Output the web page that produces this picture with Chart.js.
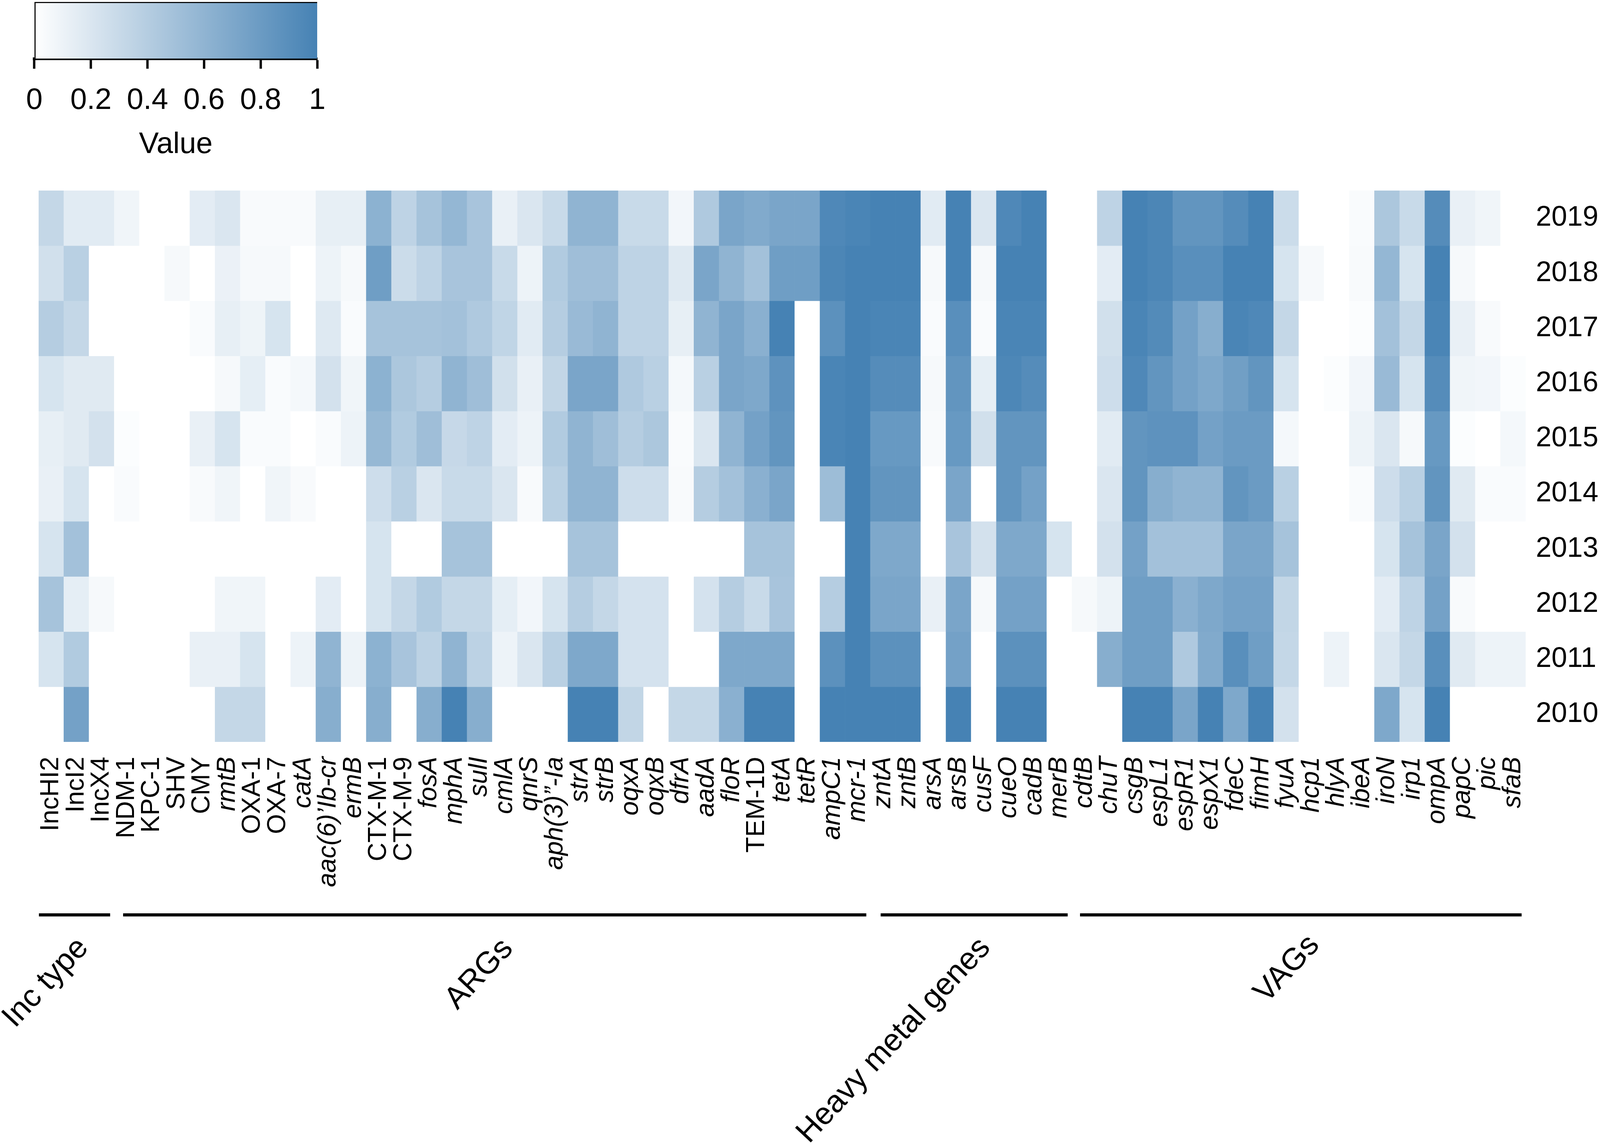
<!DOCTYPE html>
<html>
<head>
<meta charset="utf-8">
<script src="https://cdn.jsdelivr.net/npm/chart.js@4"></script>
<style>
html,body{margin:0;padding:0;background:#fff;overflow:hidden;}
#main{position:absolute;left:0;top:0;}
#legend{position:absolute;left:0;top:0;}
</style>
</head>
<body>
<canvas id="main"></canvas>
<canvas id="legend"></canvas>
<script>
const genes = ["IncHI2","IncI2","IncX4","NDM-1","KPC-1","SHV","CMY","rmtB","OXA-1","OXA-7","catA","aac(6)’Ib-cr","ermB","CTX-M-1","CTX-M-9","fosA","mphA","sulI","cmlA","qnrS","aph(3)”-Ia","strA","strB","oqxA","oqxB","dfrA","aadA","floR","TEM-1D","tetA","tetR","ampC1","mcr-1","zntA","zntB","arsA","arsB","cusF","cueO","cadB","merB","cdtB","chuT","csgB","espL1","espR1","espX1","fdeC","fimH","fyuA","hcp1","hlyA","ibeA","iroN","irp1","ompA","papC","pic","sfaB"];
const uprightGenes = ["IncHI2","IncI2","IncX4","NDM-1","KPC-1","SHV","CMY","OXA-1","OXA-7","CTX-M-1","CTX-M-9","TEM-1D"];
const years = [2019,2018,2017,2016,2015,2014,2013,2012,2011,2010];
const v2019 = [.32,.16,.16,.08,0,0,.15,.2,.04,.04,.04,.13,.13,.62,.35,.48,.58,.47,.12,.2,.3,.6,.6,.3,.3,.07,.43,.72,.68,.72,.72,.95,.98,1,1,.16,1,.2,.95,1,0,0,.35,1,.97,.85,.85,.92,1,.28,0,0,.03,.45,.3,.92,.12,.08,0];
const v2018 = [.25,.38,0,0,0,.05,0,.11,.05,.05,0,.1,.05,.78,.28,.35,.47,.47,.3,.1,.42,.52,.52,.35,.35,.18,.72,.6,.5,.78,.78,.97,1,1,1,.05,1,.05,1,1,0,0,.15,1,.97,.9,.9,1,1,.22,.05,0,.04,.58,.22,1,.05,0,0];
const v2017 = [.4,.32,0,0,0,0,.03,.13,.09,.22,0,.18,.03,.48,.48,.48,.5,.43,.34,.16,.4,.55,.6,.35,.35,.13,.6,.72,.63,1,0,.88,1,.98,.98,.03,.9,.03,.98,.98,0,0,.25,.98,.93,.75,.65,.98,.95,.32,0,0,.02,.5,.32,.98,.12,.04,0];
const v2016 = [.22,.17,.17,0,0,0,0,.05,.14,.03,.06,.24,.08,.62,.45,.4,.6,.52,.25,.12,.33,.72,.72,.43,.38,.06,.38,.72,.7,.87,0,.98,1,.92,.92,.05,.85,.14,.96,.92,0,0,.27,.95,.85,.75,.7,.77,.85,.22,0,.02,.07,.55,.22,.92,.08,.07,.02];
const v2015 = [.13,.17,.24,.02,0,0,.12,.22,.03,.03,0,.03,.1,.57,.42,.52,.31,.35,.15,.1,.42,.6,.52,.4,.45,.03,.2,.6,.75,.85,0,.98,1,.82,.82,.04,.82,.25,.85,.85,0,0,.16,.85,.87,.87,.75,.8,.8,.06,0,0,.1,.2,.05,.82,.02,0,.06];
const v2014 = [.12,.22,0,.03,0,0,.04,.08,0,.08,.04,0,0,.27,.38,.2,.3,.3,.2,.04,.38,.6,.6,.27,.27,.04,.4,.5,.63,.72,0,.53,1,.85,.85,0,.72,0,.85,.75,0,0,.2,.85,.65,.6,.6,.85,.8,.38,0,0,.03,.27,.38,.85,.17,.03,.03];
const v2013 = [.22,.5,0,0,0,0,0,0,0,0,0,0,0,.22,0,0,.48,.48,0,0,0,.48,.48,0,0,0,0,0,.48,.48,0,0,1,.7,.7,0,.47,.24,.7,.7,.22,0,.24,.75,.5,.5,.5,.72,.72,.48,0,0,0,.22,.48,.72,.24,0,0];
const v2012 = [.48,.14,.05,0,0,0,0,.08,.08,0,0,.15,0,.22,.32,.42,.32,.32,.14,.07,.22,.4,.32,.23,.23,0,.23,.4,.3,.47,0,.4,1,.72,.72,.12,.72,.05,.75,.75,0,.05,.1,.78,.78,.63,.7,.75,.75,.33,0,0,0,.15,.35,.75,.04,0,0];
const v2011 = [.22,.42,0,0,0,0,.12,.12,.22,0,.1,.6,.1,.62,.47,.36,.6,.36,.1,.2,.38,.7,.7,.23,.23,0,0,.7,.7,.7,0,.88,1,.88,.88,0,.75,0,.88,.88,0,0,.65,.78,.78,.43,.68,.9,.78,.32,0,.1,0,.2,.32,.9,.17,.1,.1];
const v2010 = [0,.75,0,0,0,0,0,.32,.32,0,0,.65,0,.65,0,.65,1,.65,0,0,0,1,1,.33,0,.32,.32,.63,1,1,0,1,1,1,1,0,1,0,1,1,0,0,0,1,1,.72,1,.7,1,.24,0,0,0,.7,.22,1,0,0,0];
const valueRows = [v2019,v2018,v2017,v2016,v2015,v2014,v2013,v2012,v2011,v2010];
const groupNames = ["Inc type","ARGs","Heavy metal genes","VAGs"];
const groupStart = [-0.486,2.854,32.91,40.82];
const groupEnd = [2.34,32.34,40.33,58.34];
const legendTicks = [0,0.2,0.4,0.6,0.8,1];

const FONT = '"Liberation Sans", Arial, sans-serif';
const LOW = [255,255,255], HIGH = [70,130,180];
function shade(v){
  const c = LOW.map((l,i)=>Math.round(l+(HIGH[i]-l)*v));
  return `rgb(${c[0]},${c[1]},${c[2]})`;
}

// The page fills whatever window it gets; sx maps the 4562-wide layout onto it.
const W = window.innerWidth, H = window.innerHeight;
const sx = W/4562, sy = H/2940;
const mainCanvas = document.getElementById('main');
mainCanvas.width = W; mainCanvas.height = H;
const legendCanvas = document.getElementById('legend');
legendCanvas.width = Math.round(1100*sx); legendCanvas.height = Math.round(417*sy);

const groupPlugin = {
  id:'groups',
  afterDraw(chart){
    const {ctx, scales:{x}} = chart;
    const lineY = 2343*sy;
    const centers = [[131,2517],[1367,2495],[2549,2665],[3670,2482]];
    ctx.save();
    ctx.strokeStyle='#000';
    ctx.lineWidth=8;
    groupNames.forEach((name,i)=>{
      ctx.beginPath();
      ctx.moveTo(x.getPixelForValue(groupStart[i]),lineY);
      ctx.lineTo(x.getPixelForValue(groupEnd[i]),lineY);
      ctx.stroke();
      ctx.save();
      ctx.translate(centers[i][0]*sx,centers[i][1]*sy);
      ctx.rotate(-47*Math.PI/180);
      ctx.font=`80px ${FONT}`;
      ctx.fillStyle='#000';
      ctx.textAlign='center';
      ctx.textBaseline='middle';
      ctx.fillText(name,0,0);
      ctx.restore();
    });
    ctx.restore();
  }
};

function zeroPad(s){s.paddingLeft=0;s.paddingRight=0;s.paddingTop=0;s.paddingBottom=0;}

new Chart(mainCanvas,{
  type:'bar',
  data:{
    labels:genes,
    datasets:years.map((yr,j)=>({
      label:String(yr),
      data:genes.map(()=>[yr-0.5,yr+0.5]),
      backgroundColor:valueRows[j].map(shade),
      borderWidth:0,
      barPercentage:1,
      categoryPercentage:1
    }))
  },
  options:{
    responsive:false,
    animation:false,
    devicePixelRatio:1,
    layout:{padding:{left:110*sx,top:488*sy,right:0,bottom:0}},
    plugins:{legend:{display:false},tooltip:{enabled:false}},
    scales:{
      x:{
        type:'category',
        stacked:true,
        grid:{display:false,drawTicks:false},
        border:{display:false},
        afterFit(s){s.height=H-1900*sy;zeroPad(s);},
        ticks:{
          autoSkip:false,maxRotation:90,minRotation:90,padding:38,color:'#000',
          font:(c)=>({family:FONT,size:66,style:uprightGenes.includes(genes[c.index])?'normal':'italic'})
        }
      },
      y:{
        type:'linear',
        position:'right',
        min:2009.5,max:2019.5,
        grid:{display:false,drawTicks:false},
        border:{display:false},
        afterBuildTicks(s){s.ticks=years.map(value=>({value}));},
        afterFit(s){s.width=212*sx;zeroPad(s);},
        ticks:{padding:26,color:'#000',font:{family:FONT,size:72},callback:v=>String(v)}
      }
    }
  },
  plugins:[groupPlugin]
});

new Chart(legendCanvas,{
  type:'bar',
  data:{
    labels:['Value'],
    datasets:[{
      data:[[0,1]],
      backgroundColor(c){
        const a=c.chart.chartArea;
        if(!a) return shade(0.5);
        const g=c.chart.ctx.createLinearGradient(a.left,0,a.right,0);
        g.addColorStop(0,shade(0));g.addColorStop(1,shade(1));
        return g;
      },
      borderColor:'#000',
      borderWidth:{top:3,left:3,right:0,bottom:0},
      borderSkipped:false,
      barPercentage:1,
      categoryPercentage:1
    }]
  },
  options:{
    indexAxis:'y',
    responsive:false,
    animation:false,
    devicePixelRatio:1,
    layout:{padding:{left:98*sx,top:5,right:196*sx,bottom:0}},
    plugins:{legend:{display:false},tooltip:{enabled:false}},
    scales:{
      x:{
        type:'linear',min:0,max:1,position:'bottom',
        afterBuildTicks(s){s.ticks=legendTicks.map(value=>({value}));},
        afterFit(s){s.height=267;zeroPad(s);},
        grid:{display:true,drawOnChartArea:false,drawTicks:true,tickLength:26,tickWidth:6,tickColor:'#000'},
        border:{display:true,color:'#000',width:7},
        ticks:{padding:36,color:'#000',font:{family:FONT,size:76},maxRotation:0,callback:v=>String(v)},
        title:{display:true,text:'Value',color:'#000',font:{family:FONT,size:76},padding:0}
      },
      y:{type:'category',display:false}
    }
  }
});
</script>
</body>
</html>
